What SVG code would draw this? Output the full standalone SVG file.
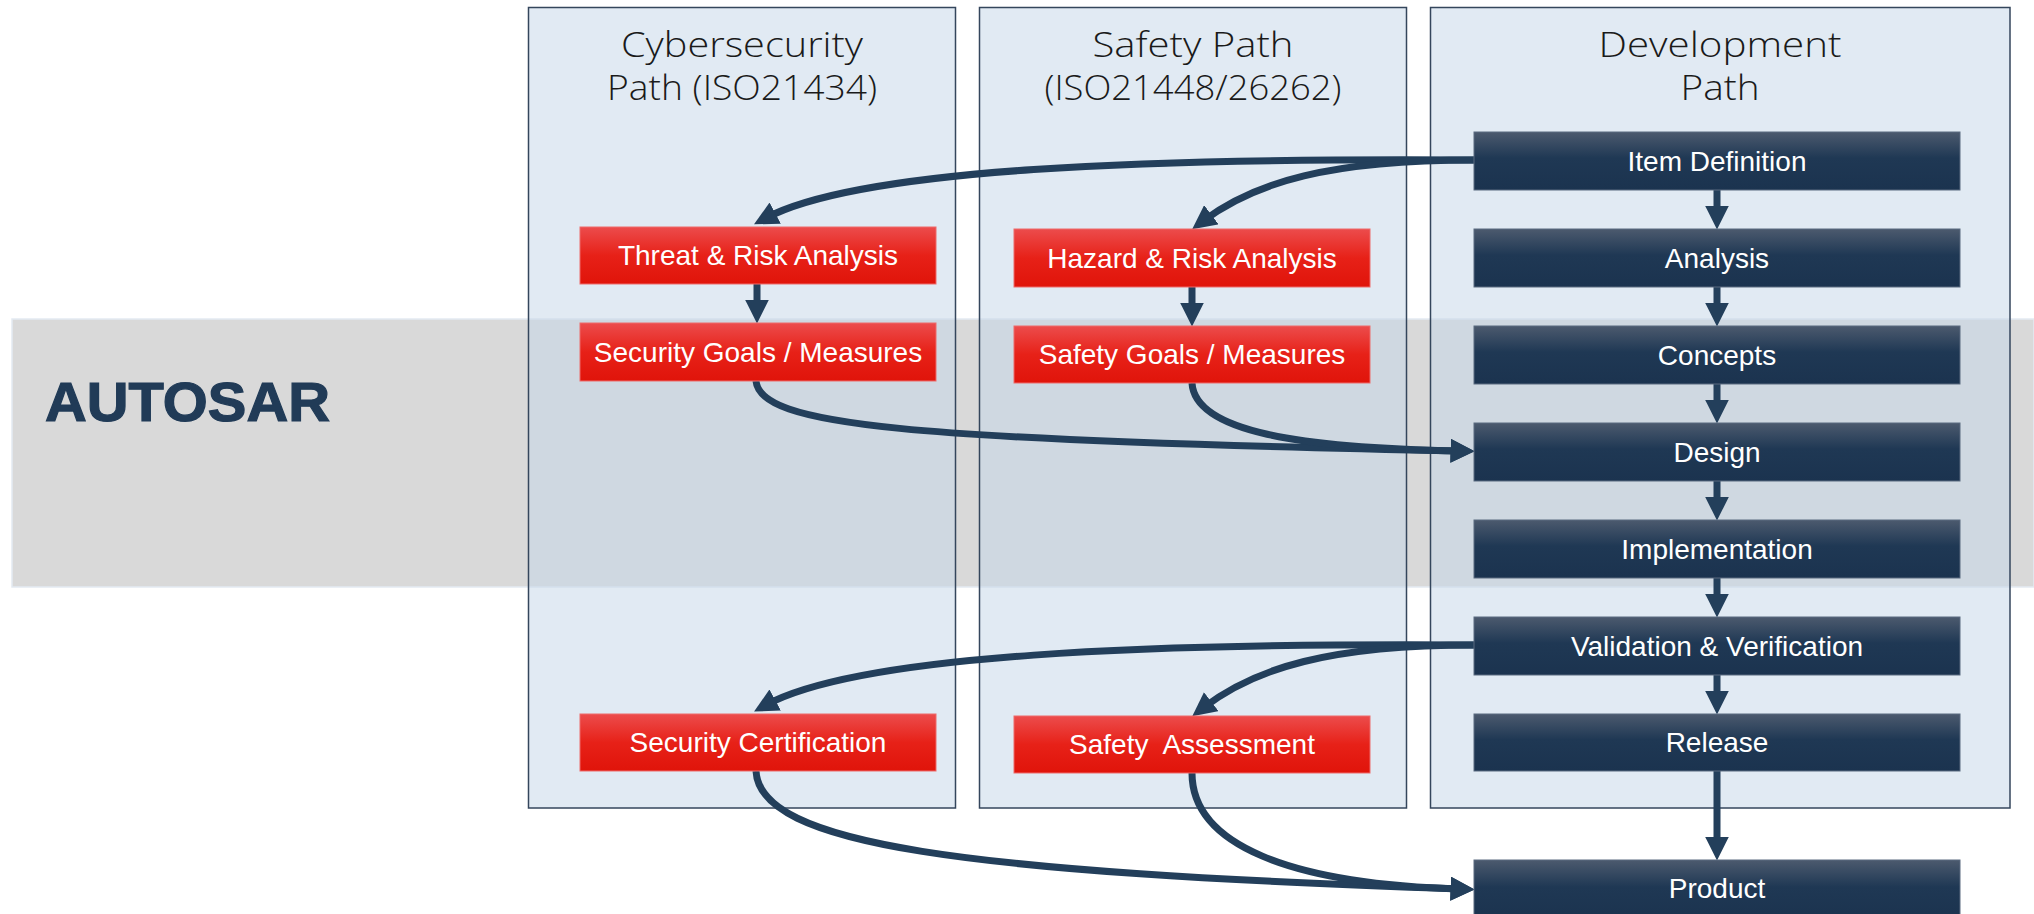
<svg xmlns="http://www.w3.org/2000/svg" width="2034" height="914" viewBox="0 0 2034 914">
  <style>
    .col { fill: rgb(198,214,232); fill-opacity: 0.52; stroke: #34465C; stroke-width: 1.5; }
    .hdr { font-family: "Open Sans", "DejaVu Sans", sans-serif; font-weight: 300; font-size: 35px; fill: #1A1A1A; text-anchor: middle; }
    .dark rect { fill: url(#gDark); stroke: #5B6B80; stroke-width: 1; }
    .red rect { fill: url(#gRed); stroke: #EE6A6A; stroke-width: 1; }
    .lbl { font-family: "Liberation Sans", Arial, sans-serif; font-size: 28px; fill: #FFFFFF; text-anchor: middle; }
    .conn path { fill: none; stroke: #233F5B; stroke-width: 7; marker-end: url(#arr); }
  </style>
  <defs>
    <linearGradient id="gDark" x1="0" y1="0" x2="0" y2="1">
      <stop offset="0" stop-color="#4C5A6E"/>
      <stop offset="0.45" stop-color="#1F3854"/>
      <stop offset="1" stop-color="#1B334F"/>
    </linearGradient>
    <linearGradient id="gRed" x1="0" y1="0" x2="0" y2="1">
      <stop offset="0" stop-color="#EC4C4C"/>
      <stop offset="0.5" stop-color="#E72118"/>
      <stop offset="1" stop-color="#E0140A"/>
    </linearGradient>
    <marker id="arr" markerUnits="userSpaceOnUse" markerWidth="24" markerHeight="24" viewBox="0 0 23 23" refX="10" refY="11.5" orient="auto">
      <path d="M0,0 L23,11.5 L0,23 Z" fill="#233F5B"/>
    </marker>
  </defs>

  <rect width="2034" height="914" fill="#FFFFFF"/>

  <!-- AUTOSAR band -->
  <g id="autosar-band">
    <rect x="12" y="319" width="2022" height="268" fill="#D9D9D9" stroke="#E3EAF2" stroke-width="1.5"/>
    <text x="45" y="421" font-family="Liberation Sans, Arial, sans-serif" font-weight="bold" font-size="55" fill="#213B57" stroke="#213B57" stroke-width="1.2" textLength="285" lengthAdjust="spacingAndGlyphs">AUTOSAR</text>
  </g>

  <!-- Columns -->
  <g id="col-cyber">
    <rect class="col" x="528.5" y="7.5" width="427" height="800.5"/>
    <text class="hdr" x="742" y="57" textLength="242" lengthAdjust="spacingAndGlyphs">Cybersecurity</text>
    <text class="hdr" x="742" y="100" textLength="270" lengthAdjust="spacingAndGlyphs">Path (ISO21434)</text>
  </g>
  <g id="col-safety">
    <rect class="col" x="979.5" y="7.5" width="427" height="800.5"/>
    <text class="hdr" x="1193" y="57" textLength="201" lengthAdjust="spacingAndGlyphs">Safety Path</text>
    <text class="hdr" x="1193" y="100" textLength="297" lengthAdjust="spacingAndGlyphs">(ISO21448/26262)</text>
  </g>
  <g id="col-dev">
    <rect class="col" x="1430.5" y="7.5" width="579.5" height="800.5"/>
    <text class="hdr" x="1720" y="57" textLength="243" lengthAdjust="spacingAndGlyphs">Development</text>
    <text class="hdr" x="1720" y="100" textLength="79" lengthAdjust="spacingAndGlyphs">Path</text>
  </g>

  <!-- Connectors -->
  <g id="connectors" class="conn">
    <path d="M1474,160 C1150,158 860,168 766,218"/>
    <path d="M1474,160 C1330,160 1255,182 1203,221"/>
    <path d="M1717,190 L1717,216"/>
    <path d="M1717,287 L1717,313"/>
    <path d="M1717,384 L1717,410"/>
    <path d="M1717,481 L1717,507"/>
    <path d="M1717,578 L1717,604"/>
    <path d="M1717,675 L1717,701"/>
    <path d="M1717,771 L1717,847"/>
    <path d="M757,284 L757,310"/>
    <path d="M1192,287 L1192,313"/>
    <path d="M756,381 C760,425 900,440 1461,451"/>
    <path d="M1192,383 C1195,432 1300,448 1461,451"/>
    <path d="M1474,645 C1150,643 860,654 766,705"/>
    <path d="M1474,645 C1330,645 1255,668 1203,708"/>
    <path d="M756,771 C760,845 960,872 1461,889"/>
    <path d="M1192,773 C1192,845 1290,884 1461,889"/>
  </g>

  <!-- Red nodes -->
  <g id="threat" class="red"><rect x="580" y="227" width="356" height="57"/><text class="lbl" x="758" y="265">Threat &amp; Risk Analysis</text></g>
  <g id="sec-goals" class="red"><rect x="580" y="323" width="356" height="58"/><text class="lbl" x="758" y="362">Security Goals / Measures</text></g>
  <g id="sec-cert" class="red"><rect x="580" y="714" width="356" height="57"/><text class="lbl" x="758" y="752">Security Certification</text></g>
  <g id="hazard" class="red"><rect x="1014" y="229" width="356" height="58"/><text class="lbl" x="1192" y="268">Hazard &amp; Risk Analysis</text></g>
  <g id="safety-goals" class="red"><rect x="1014" y="326" width="356" height="57"/><text class="lbl" x="1192" y="364">Safety Goals / Measures</text></g>
  <g id="safety-assess" class="red"><rect x="1014" y="716" width="356" height="57"/><text class="lbl" x="1192" y="754" xml:space="preserve">Safety  Assessment</text></g>

  <!-- Dark nodes -->
  <g id="item-def" class="dark"><rect x="1474" y="132" width="486" height="58"/><text class="lbl" x="1717" y="171">Item Definition</text></g>
  <g id="analysis" class="dark"><rect x="1474" y="229" width="486" height="58"/><text class="lbl" x="1717" y="268">Analysis</text></g>
  <g id="concepts" class="dark"><rect x="1474" y="326" width="486" height="58"/><text class="lbl" x="1717" y="365">Concepts</text></g>
  <g id="design" class="dark"><rect x="1474" y="423" width="486" height="58"/><text class="lbl" x="1717" y="462">Design</text></g>
  <g id="implementation" class="dark"><rect x="1474" y="520" width="486" height="58"/><text class="lbl" x="1717" y="559">Implementation</text></g>
  <g id="vv" class="dark"><rect x="1474" y="617" width="486" height="58"/><text class="lbl" x="1717" y="656">Validation &amp; Verification</text></g>
  <g id="release" class="dark"><rect x="1474" y="714" width="486" height="57"/><text class="lbl" x="1717" y="752">Release</text></g>
  <g id="product" class="dark"><rect x="1474" y="860" width="486" height="60"/><text class="lbl" x="1717" y="898">Product</text></g>
</svg>
